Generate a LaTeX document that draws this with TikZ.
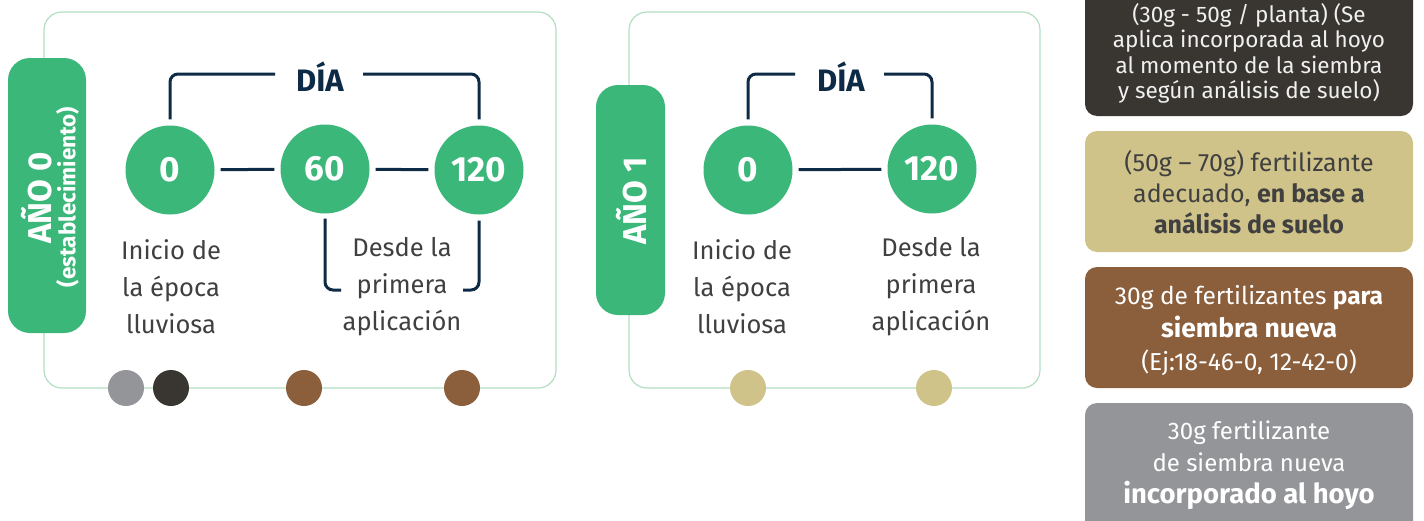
\documentclass[tikz,border=0pt]{standalone}
\usepackage{fontspec}
\setmainfont{Fira Sans}
\definecolor{mgreen}{HTML}{3BB77A}
\definecolor{navy}{HTML}{0E2B46}
\definecolor{txtgray}{HTML}{404040}
\definecolor{panelgreen}{HTML}{B3DFC2}
\definecolor{darkbox}{HTML}{393631}
\definecolor{tanbox}{HTML}{D0C38A}
\definecolor{brownbox}{HTML}{8B5E3C}
\definecolor{graybox}{HTML}{949599}
\tikzset{
  panel/.style={draw=panelgreen, line width=1.2pt, rounded corners=18pt, inner sep=0pt, fill=white},
  tab/.style={fill=mgreen, rounded corners=22pt, inner sep=0pt},
  taptext/.style={rotate=90, text=white, font=\fontsize{33}{33}\selectfont\bfseries},
  daycircle/.style={circle, fill=mgreen, minimum size=89pt, inner sep=0pt, text=white, font=\fontsize{35}{35}\selectfont\bfseries},
  link/.style={draw=navy, line width=3pt, shorten <=6pt, shorten >=6pt},
  bracket/.style={draw=navy, line width=3pt, rounded corners=8pt},
  daylabel/.style={text=navy, font=\fontsize{31}{31}\selectfont\bfseries},
  desc/.style={text=txtgray, align=center, font=\fontsize{25.5}{37}\selectfont},
  dot/.style={circle, minimum size=36pt, inner sep=0pt},
  legend/.style={rounded corners=12pt, minimum width=328pt, inner sep=0pt},
  legendtext/.style={align=center}
}
\begin{document}
\begin{tikzpicture}[x=1pt,y=-1pt]
\useasboundingbox (0,0) rectangle (1424,520);
% ---------- panel 1 ----------
\node[panel, minimum width=512pt, minimum height=376pt] (p1) at (300,200) {};
\node[tab, minimum width=78pt, minimum height=275pt] (t1) at (47,195.5) {};
\node[taptext] (t1a) at (36.5,198) {AÑO 0};
\node[rotate=90, text=white, font=\fontsize{22.5}{22.5}\selectfont\bfseries] (t1b) at (67.5,197) {(establecimiento)};
\node[daycircle] (a0) at (170,170) {0};
\node[daycircle] (a60) at (325,169) {60};
\node[daycircle] (a120) at (479,170) {120};
\draw[link] (a0) -- (a60);
\draw[link] (a60) -- (a120);
\node[daylabel] (d1) at (320,77) {DÍA};
\coordinate (d1l) at (275,74);
\coordinate (d1r) at (363,74);
\draw[bracket] ([yshift=6pt]a0.north) |- (d1l);
\draw[bracket] ([yshift=6pt]a120.north) |- (d1r);
\coordinate (e1l) at (341,290);
\coordinate (e1r) at (463,290);
\draw[bracket] ([yshift=-5pt]a60.south) |- (e1l);
\draw[bracket] ([yshift=-6pt]a120.south) |- (e1r);
\node[desc] (l1) at (171,287) {Inicio de\\la época\\lluviosa};
\node[desc] (l2) at (402,287) {Desde la\\primera\\aplicación};
\node[dot, fill=graybox] (g1) at (126,388) {};
\node[dot, fill=darkbox] (g2) at (171,388) {};
\node[dot, fill=brownbox] (g3) at (304,388) {};
\node[dot, fill=brownbox] (g4) at (462,388) {};
% ---------- panel 2 ----------
\node[panel, minimum width=411pt, minimum height=376pt] (p2) at (834.5,200) {};
\node[tab, minimum width=69pt, minimum height=230pt] (t2) at (630.5,200) {};
\node[taptext] (t2a) at (632,201) {AÑO 1};
\node[daycircle] (b0) at (748,170) {0};
\node[daycircle] (b120) at (932,169) {120};
\draw[link] (b0) -- (b120);
\node[daylabel] (d2) at (841,77) {DÍA};
\coordinate (d2l) at (795,74);
\coordinate (d2r) at (884,74);
\draw[bracket] ([yshift=6pt]b0.north) |- (d2l);
\draw[bracket] ([yshift=6pt]b120.north) |- (d2r);
\node[desc] (l3) at (742,287) {Inicio de\\la época\\lluviosa};
\node[desc] (l4) at (931,287) {Desde la\\primera\\aplicación};
\node[dot, fill=tanbox] (h1) at (748,388) {};
\node[dot, fill=tanbox] (h2) at (934,388) {};
% ---------- legend ----------
\node[legend, fill=darkbox, minimum height=150pt] (k1) at (1249,41) {};
\node[legendtext, text=white!94!black, font=\fontsize{22.5}{25.5}\selectfont] (k1t) at (1249,53.5) {(30g - 50g / planta) (Se\\aplica incorporada al hoyo\\al momento de la siembra\\y según análisis de suelo)};
\node[legend, fill=tanbox, minimum height=121pt] (k2) at (1249,191.5) {};
\node[legendtext, text=txtgray, font=\fontsize{25}{31}\selectfont] (k2t) at (1249,192.5) {(50g – 70g) fertilizante\\adecuado, \textbf{en base a}\\\textbf{análisis de suelo}};
\node[legend, fill=brownbox, minimum height=121pt] (k3) at (1249,327.5) {};
\node[legendtext, text=white, font=\fontsize{24.5}{33}\selectfont] (k3t) at (1249,331) {30g de fertilizantes \textbf{para}\\{\fontsize{26.5}{33}\selectfont\textbf{siembra nueva}}\\(Ej:18-46-0, 12-42-0)};
\node[legend, fill=graybox, minimum height=140pt] (k4) at (1249,473) {};
\node[legendtext, text=white, font=\fontsize{24}{32}\selectfont] (k4t) at (1249,465) {30g fertilizante\\de siembra nueva\\{\fontsize{27.5}{32}\selectfont\textbf{incorporado al hoyo}}};
\end{tikzpicture}
\end{document}
